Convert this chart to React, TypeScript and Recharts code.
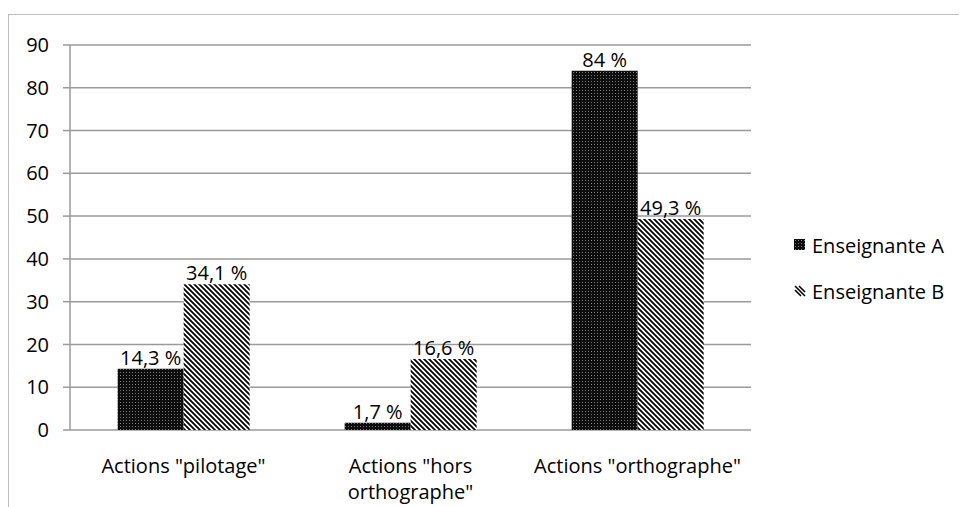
import React from "react";
import { BarChart, Bar, XAxis, YAxis, CartesianGrid, LabelList } from "recharts";

const categories = ['Actions "pilotage"', 'Actions "hors orthographe"', 'Actions "orthographe"'];
const categoryLines = [['Actions "pilotage"'], ['Actions "hors', 'orthographe"'], ['Actions "orthographe"']];
const seriesA = [14.3, 1.7, 84];
const seriesB = [34.1, 16.6, 49.3];
const labelsA = ["14,3 %", "1,7 %", "84 %"];
const labelsB = ["34,1 %", "16,6 %", "49,3 %"];
const yTicks = [0, 10, 20, 30, 40, 50, 60, 70, 80, 90];
const boundaryTicks = [0, 1, 2, 3];
const seriesNames = ["Enseignante A", "Enseignante B"];

const data = categories.map((c, i) => ({
  name: c,
  a: seriesA[i],
  b: seriesB[i],
  la: labelsA[i],
  lb: labelsB[i],
}));

const FONT = "'Open Sans', sans-serif";
const FS = 20;
const AXIS = "#9a9a9a";

const Patterns = () => (
  <defs>
    <pattern id="dots" width="3" height="3" patternUnits="userSpaceOnUse">
      <rect width="3" height="3" fill="#0d0d0d" />
      <rect x="1" y="1" width="1" height="1" fill="#7a7a7a" />
    </pattern>
    <pattern id="stripes" width="5" height="5" patternUnits="userSpaceOnUse">
      <rect width="5" height="5" fill="#fff" />
      <path d="M0,0 L5,5 M-1,4 L1,6 M4,-1 L6,1" stroke="#000" strokeWidth="1.8" />
    </pattern>
  </defs>
);

const XTick = (props: any) => {
  const { x, y, payload } = props;
  const lines = categoryLines[payload.index] || [payload.value];
  return (
    <g transform={`translate(${x},${y})`}>
      {lines.map((l: string, i: number) => (
        <text key={i} x={0} y={35 + i * 26} textAnchor="middle" fontSize={FS} fontFamily={FONT} fill="#000">
          {l}
        </text>
      ))}
    </g>
  );
};

export default function App() {
  return (
    <div style={{ position: "relative", width: 959, height: 499 }}>
      <div
        style={{
          position: "absolute",
          left: 0,
          top: 6,
          width: 959,
          height: 493,
          borderLeft: "1px solid #bdbdbd",
          borderTop: "1px solid #bdbdbd",
          boxSizing: "border-box",
        }}
      />
      <div style={{ position: "absolute", left: 0, top: 0 }}>
        <BarChart
          width={959}
          height={499}
          data={data}
          margin={{ top: 37, right: 216, bottom: 17, left: 22 }}
          barGap={0}
          barCategoryGap="21%"
        >
          <Patterns />
          <CartesianGrid vertical={false} stroke={AXIS} strokeWidth={1.5} />
          <XAxis
            xAxisId="edges"
            type="number"
            domain={[0, 3]}
            ticks={boundaryTicks}
            tick={false}
            tickSize={6}
            tickLine={{ stroke: AXIS, strokeWidth: 1.5 }}
            axisLine={{ stroke: AXIS, strokeWidth: 1.5 }}
            height={0}
          />
          <XAxis
            dataKey="name"
            tick={<XTick />}
            tickLine={false}
            axisLine={false}
            height={60}
            interval={0}
          />
          <YAxis
            domain={[0, 90]}
            ticks={yTicks}
            width={40}
            tickSize={7}
            tickMargin={14}
            tickLine={{ stroke: AXIS, strokeWidth: 1.5 }}
            axisLine={{ stroke: AXIS, strokeWidth: 1.5 }}
            tick={{ fontSize: FS, fontFamily: FONT, fill: "#000" }}
            interval={0}
          />
          <Bar dataKey="a" fill="url(#dots)" isAnimationActive={false}>
            <LabelList dataKey="la" position="top" offset={4} fontSize={FS} fontFamily={FONT} fill="#000" />
          </Bar>
          <Bar dataKey="b" fill="url(#stripes)" isAnimationActive={false}>
            <LabelList dataKey="lb" position="top" offset={4} fontSize={FS} fontFamily={FONT} fill="#000" />
          </Bar>
        </BarChart>
      </div>
      <div style={{ position: "absolute", left: 786, top: 214, fontFamily: FONT, fontSize: FS }}>
        {seriesNames.map((n, i) => (
          <div key={n} style={{ display: "flex", alignItems: "center", height: 46 }}>
            <svg width={12} height={12} style={{ marginRight: 6 }}>
              <Patterns />
              {i === 0 ? (
                <rect x={0} y={0} width={11} height={11} fill="url(#dots)" />
              ) : (
                <path d="M1,1 L11,11 M1,5 L7,11 M5,1 L11,7" stroke="#000" strokeWidth={1.6} />
              )}
            </svg>
            <span>{n}</span>
          </div>
        ))}
      </div>
    </div>
  );
}
